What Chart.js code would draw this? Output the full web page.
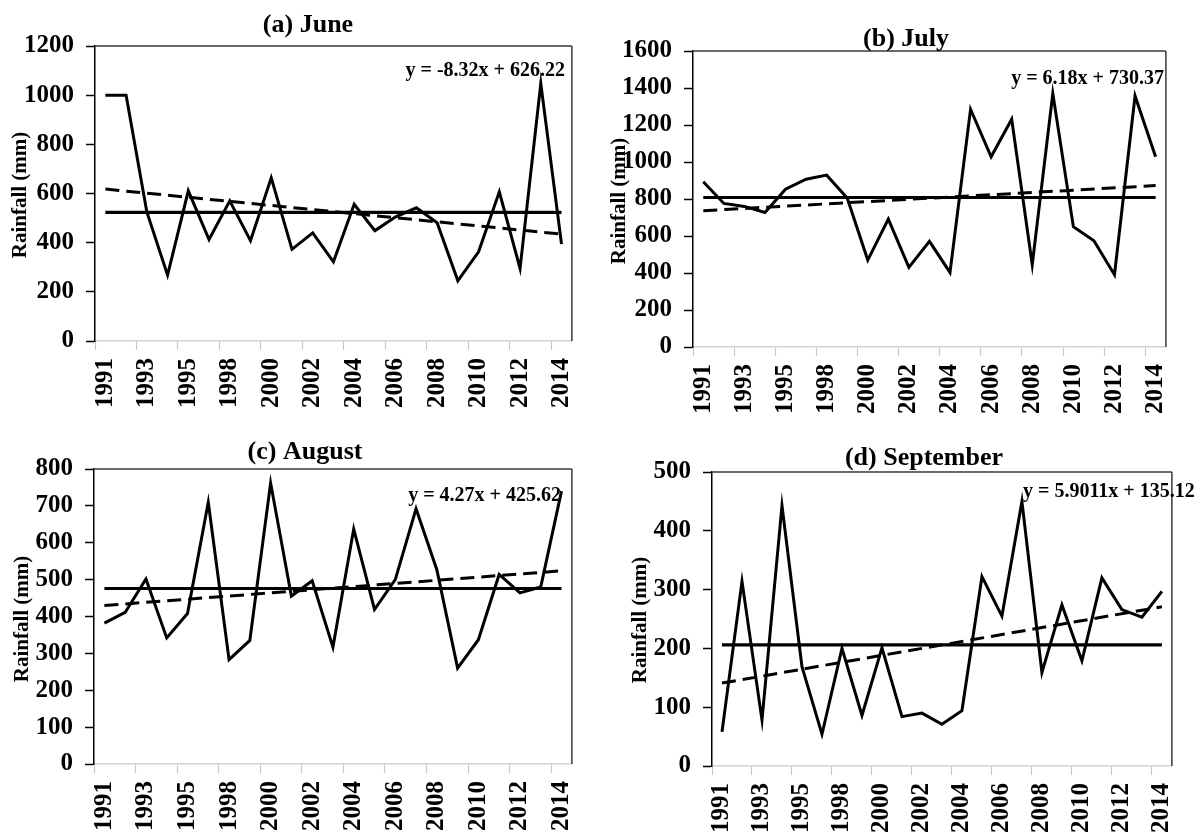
<!DOCTYPE html>
<html><head><meta charset="utf-8">
<script src="https://cdn.jsdelivr.net/npm/chart.js@4.4.1/dist/chart.umd.min.js"></script>
<style>
html,body{margin:0;padding:0;background:#fff;overflow:hidden;width:1194px;height:839px;}
canvas{position:absolute;}
</style></head><body>
<canvas id="c0" width="600" height="425" style="left:0px;top:0px"></canvas>
<canvas id="c1" width="594" height="425" style="left:600px;top:0px"></canvas>
<canvas id="c2" width="600" height="414" style="left:0px;top:425px"></canvas>
<canvas id="c3" width="600" height="414" style="left:600px;top:425px"></canvas>
<script>
// ---- data ----
const years = [1991,1992,1993,1994,1995,1997,1998,1999,2000,2001,2002,2003,2004,2005,2006,2007,2008,2009,2010,2011,2012,2013,2014];
const panelTitles = ["(a) June", "(b) July", "(c) August", "(d) September"];
const juneRain = [1000,1000,525,268,611,413,570,408,664,373,440,322,556,449,505,542,481,245,363,607,295,1047,394];
const julyRain = [893,776,760,727,853,907,929,805,470,691,430,571,403,1285,1028,1231,445,1370,650,574,391,1357,1028];
const augustRain = [382,411,502,342,408,710,283,335,762,455,497,317,637,419,500,692,527,260,337,514,464,480,740];
const septemberRain = [58,314,78,443,169,54,200,86,201,84,90,71,94,322,255,450,159,274,179,320,266,253,297];
const meanRain = [523, 808, 476, 206];
const trendStart = [617.9, 736.6, 429.9, 141.0];
const trendEnd = [434.9, 872.5, 523.8, 270.8];
const trendLabels = ["y = -8.32x + 626.22", "y = 6.18x + 730.37", "y = 4.27x + 425.62", "y = 5.9011x + 135.12"];
const yMax = [1200, 1600, 800, 500];
const yStep = [200, 200, 100, 100];
const yTitle = "Rainfall (mm)";

// ---- layout (pixels, per canvas) ----
const layouts = [
  {id:'c0', w:600, h:425, l:95, t:46, r:578, b:341, title:[308,32], ylab:[21,195], eq:[565,76,'right']},
  {id:'c1', w:594, h:425, l:93, t:51, r:576, b:347, title:[306,46], ylab:[20,201], eq:[564,84,'right']},
  {id:'c2', w:600, h:414, l:94, t:44, r:577, b:339, title:[305,34], ylab:[23,194], eq:[561,76,'right']},
  {id:'c3', w:600, h:414, l:112, t:47, r:595, b:341, title:[324,40], ylab:[41,195], eq:[423,72,'left']}
];
const series = [juneRain, julyRain, augustRain, septemberRain];
const FONT = "'Liberation Serif','Times New Roman',serif";

function endpoints(a, b, n) {
  const arr = new Array(n).fill(null);
  arr[0] = a; arr[n - 1] = b;
  return arr;
}

const framePlugin = {
  id: 'frame',
  afterDraw(chart) {
    const o = chart.options.plugins.frame;
    const ctx = chart.ctx, a = chart.chartArea;
    ctx.save();
    ctx.lineWidth = 1.5;
    ctx.strokeStyle = '#3a3a3a';
    ctx.beginPath();
    ctx.moveTo(a.left, a.top); ctx.lineTo(a.right, a.top);
    ctx.moveTo(a.right, a.top); ctx.lineTo(a.right, a.bottom);
    ctx.stroke();
    ctx.fillStyle = '#000';
    ctx.font = "bold 26px " + FONT;
    ctx.textAlign = 'center'; ctx.textBaseline = 'alphabetic';
    ctx.fillText(o.title, o.titlePos[0], o.titlePos[1]);
    ctx.font = "bold 20px " + FONT;
    ctx.textAlign = o.eqPos[2];
    ctx.fillText(o.eq, o.eqPos[0], o.eqPos[1]);
    ctx.font = "bold 21px " + FONT;
    ctx.translate(o.ylabPos[0], o.ylabPos[1]);
    ctx.rotate(-Math.PI / 2);
    ctx.textAlign = 'center'; ctx.textBaseline = 'middle';
    ctx.fillText(o.ylab, 0, 0);
    ctx.restore();
  }
};

layouts.forEach((L, i) => {
  const n = years.length;
  new Chart(document.getElementById(L.id), {
    type: 'line',
    data: {
      labels: years.map(String),
      datasets: [
        {data: series[i], borderColor: '#000', borderWidth: 3, pointRadius: 0, tension: 0, fill: false},
        {data: endpoints(meanRain[i], meanRain[i], n), borderColor: '#000', borderWidth: 3.2, pointRadius: 0, spanGaps: true, fill: false},
        {data: endpoints(trendStart[i], trendEnd[i], n), borderColor: '#000', borderWidth: 3, borderDash: [14, 7], pointRadius: 0, spanGaps: true, fill: false}
      ]
    },
    options: {
      responsive: false,
      animation: false,
      devicePixelRatio: 1,
      events: [],
      layout: {padding: {left: 0, top: L.t, right: L.w - L.r, bottom: 0}},
      plugins: {
        legend: {display: false},
        tooltip: {enabled: false},
        title: {display: false},
        frame: {title: panelTitles[i], titlePos: L.title, eq: trendLabels[i], eqPos: L.eq, ylab: yTitle, ylabPos: L.ylab}
      },
      scales: {
        x: {
          type: 'category',
          offset: true,
          afterFit(s) { s.height = L.h - L.b; },
          border: {display: true, color: '#d4d4d4', width: 1.5},
          grid: {
            display: true, drawOnChartArea: false, drawTicks: true, offset: true,
            tickLength: 9, tickWidth: 1.2,
            tickColor: (c) => (c.index % 2 === 0 ? '#c8c8c8' : 'rgba(0,0,0,0)')
          },
          ticks: {
            autoSkip: false, maxRotation: 90, minRotation: 90, padding: 8,
            color: '#000', font: {family: FONT, size: 25, weight: 'bold'},
            callback: function (v, idx) { return idx % 2 === 0 ? this.getLabelForValue(v) : ''; }
          }
        },
        y: {
          min: 0, max: yMax[i],
          afterFit(s) { s.width = L.l; },
          border: {display: true, color: '#000', width: 1.5},
          grid: {display: true, drawOnChartArea: false, drawTicks: true, tickLength: 9, tickWidth: 1.5, tickColor: '#000'},
          ticks: {stepSize: yStep[i], padding: 12, color: '#000', font: {family: FONT, size: 25, weight: 'bold'},
            callback: (v) => String(v)}
        }
      }
    },
    plugins: [framePlugin]
  });
});
</script>
</body></html>
